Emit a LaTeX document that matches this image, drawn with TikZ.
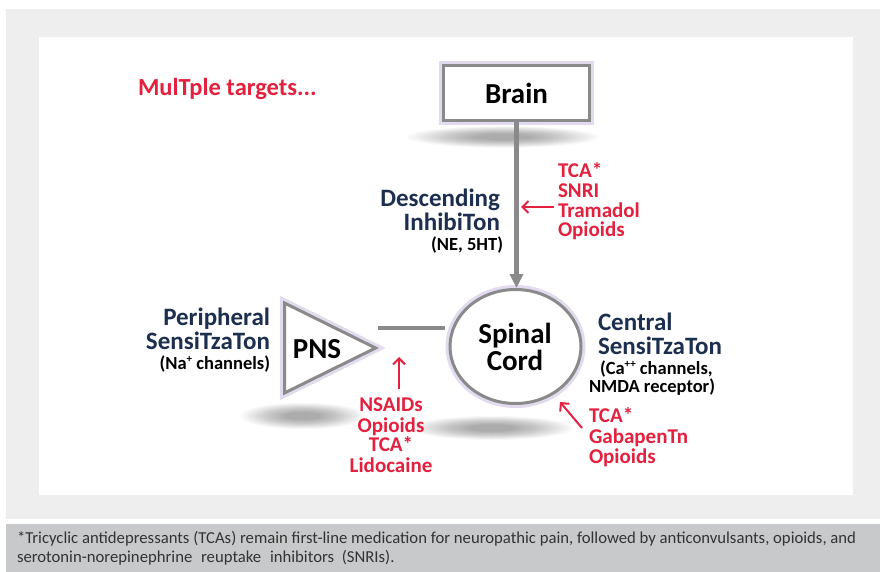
\documentclass[tikz,border=0pt]{standalone}
\usepackage{fontspec}
\setmainfont{Carlito}
\usetikzlibrary{arrows.meta,shapes.geometric}
\definecolor{navy}{HTML}{1C2F4F}
\definecolor{dred}{HTML}{E3203D}
\definecolor{bord}{HTML}{8A8A8A}
\definecolor{glow}{HTML}{E2DAEE}
\definecolor{outerbg}{HTML}{EEEEEE}
\definecolor{capbg}{HTML}{C8C9CA}
\definecolor{captext}{HTML}{333333}
\newcommand{\supr}[1]{\raisebox{0.33em}{\fontsize{11}{11}\selectfont #1}}
\tikzset{
  txt/.style={inner sep=0pt, outer sep=0pt},
  navytxt/.style={txt, text=navy, font=\bfseries\fontsize{25}{25}\selectfont},
  smalltxt/.style={txt, text=black, font=\bfseries\fontsize{18.5}{18.5}\selectfont},
  redtxt/.style={txt, text=dred, font=\bfseries\fontsize{21}{21}\selectfont},
  bigtxt/.style={txt, text=black, font=\bfseries\fontsize{29}{29}\selectfont},
  captxt/.style={txt, text=captext, font=\fontsize{16.7}{17}\selectfont},
  redarrow/.style={draw=dred, line width=2pt, -{Straight Barb[length=6pt,width=12pt]}},
  greyline/.style={draw=bord, line width=4.5pt},
  shapeborder/.style={draw=bord, line width=3pt, fill=white, preaction={draw=glow, line width=9pt}},
}
\begin{document}
\begin{tikzpicture}[x=1pt,y=-1pt]
\useasboundingbox (0,0) rectangle (880,572);
\fill[white] (0,0) rectangle (880,572);
\fill[outerbg] (6,9) rectangle (880,519);
\fill[white] (39,37) rectangle (853,495);
\fill[capbg] (6,524) rectangle (880,572);

% soft shadows
\foreach \cx/\cy/\rx/\ry in {503/137/80/9, 303/416/52/11, 492/428/68/10}{
  \foreach \k in {1,...,18}{
    \fill[black, opacity=0.02] (\cx,\cy) ellipse ({\rx*(0.3+0.9*\k/18)} and {\ry*(0.3+0.9*\k/18)});
  }
}

% title
\node[txt, text=dred, font=\bfseries\fontsize{24.5}{24.5}\selectfont, anchor=base west] (title) at (138,96) {MulTple targets...};

% brain
\node[shapeborder, rectangle, minimum width=146pt, minimum height=55pt, inner sep=0pt,
      font=\bfseries\fontsize{29}{29}\selectfont] (brain) at (516.5,93) {Brain};

% spinal cord
\node[shapeborder, ellipse, minimum width=131pt, minimum height=114pt, inner sep=0pt] (cord) at (515.5,346.5) {};
\node[bigtxt, anchor=base] (cordA) at (515,343) {Spinal};
\node[bigtxt, anchor=base] (cordB) at (515,370) {Cord};

% PNS triangle
\coordinate (pnsA) at (284.5,303);
\coordinate (pnsB) at (284.5,393);
\coordinate (pnsC) at (375.5,348);
\draw[shapeborder, line join=miter] (pnsA) -- (pnsB) -- (pnsC) -- cycle;
\node[bigtxt] (pns) at (317,349) {PNS};

% connectors
\draw[greyline, -{Triangle[length=14pt,width=13pt]}] (brain.south) -- (brain.south |- cord.north);
\coordinate (gapA) at (378,328);
\coordinate (gapB) at (445,328);
\draw[greyline, line width=4pt] (gapA) -- (gapB);

% descending
\node[navytxt, anchor=base east] (desc1) at (500,206) {Descending};
\node[navytxt, anchor=base east] (desc2) at (500,230) {InhibiTon};
\node[smalltxt, anchor=base east] (desc3) at (503,250) {(NE, 5HT)};

% red block top
\node[redtxt, anchor=base west] (ra1) at (558,178) {TCA*};
\node[redtxt, anchor=base west] (ra2) at (558,197) {SNRI};
\node[redtxt, anchor=base west] (ra3) at (558,217) {Tramadol};
\node[redtxt, anchor=base west] (ra4) at (558,236) {Opioids};
\coordinate (raT) at (554,207);
\coordinate (raH) at (521,207);
\draw[redarrow] (raT) -- (raH);

% peripheral
\node[navytxt, anchor=base east] (per1) at (270,325) {Peripheral};
\node[navytxt, anchor=base east] (per2) at (270,349) {SensiTzaTon};
\node[smalltxt, anchor=base east] (per3) at (270,369) {(Na\supr{+} channels)};

% red block bottom middle
\node[redtxt, anchor=base] (rb1) at (391,411) {NSAIDs};
\node[redtxt, anchor=base] (rb2) at (391,432) {Opioids};
\node[redtxt, anchor=base] (rb3) at (391,451) {TCA*};
\node[redtxt, anchor=base] (rb4) at (391,472) {Lidocaine};
\coordinate (rbT) at (399,389);
\coordinate (rbH) at (399,357);
\draw[redarrow] (rbT) -- (rbH);

% central
\node[navytxt, anchor=base west] (cen1) at (598,330) {Central};
\node[navytxt, anchor=base west] (cen2) at (598,354) {SensiTzaTon};
\node[smalltxt, anchor=base west] (cen3) at (600,374) {(Ca\supr{++} channels,};
\node[smalltxt, anchor=base west] (cen4) at (589,392) {NMDA receptor)};

% red block right
\node[redtxt, anchor=base west] (rc1) at (589,422) {TCA*};
\node[redtxt, anchor=base west] (rc2) at (589,443) {GabapenTn};
\node[redtxt, anchor=base west] (rc3) at (589,463) {Opioids};
\coordinate (rcT) at (582,428);
\coordinate (rcH) at (560,402);
\draw[redarrow] (rcT) -- (rcH);

% caption
\node[captxt, anchor=base west] (cap1) at (17,543) {*Tricyclic antidepressants (TCAs) remain first-line medication for neuropathic pain, followed by anticonvulsants, opioids, and};
\node[captxt, anchor=base west] (cap2) at (17,562) {serotonin-norepinephrine\hspace{5pt} reuptake\hspace{5pt} inhibitors\hspace{4pt} (SNRIs).};
\end{tikzpicture}
\end{document}
